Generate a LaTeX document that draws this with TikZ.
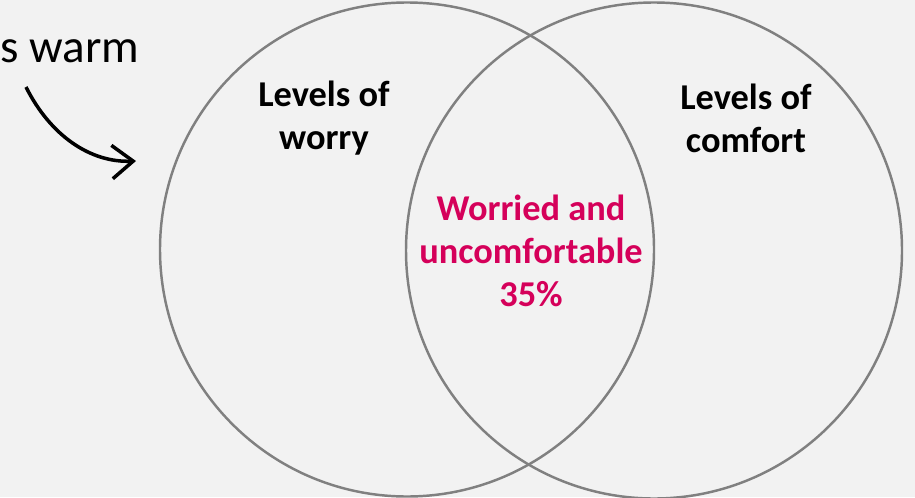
\documentclass[tikz,border=0pt]{standalone}
\usepackage{fontspec}
\setmainfont{Carlito}
\usepackage{tikz}
\usepackage{xcolor}
\usetikzlibrary{arrows.meta}
\definecolor{bgray}{HTML}{F2F2F2}
\definecolor{ringgray}{HTML}{808080}
\definecolor{worrypink}{RGB}{213,0,90}

\begin{document}
\begin{tikzpicture}[x=0.02cm,y=-0.02cm,
  ring/.style={draw=ringgray,line width=1.4pt},
  lbl/.style={font=\bfseries\fontsize{20.7}{24.5}\selectfont,align=center}]
\fill[bgray](0,0) rectangle (915,497);
\useasboundingbox (0,0) rectangle (915,497);
\draw[ring](407,249.5) circle (247);
\draw[ring](654,250.5) circle (248);
\node[lbl] (worry) at (324,118) {Levels of\\worry};
\node[lbl] (comfort) at (746,118) {Levels of\\comfort};
\node[lbl,text=worrypink] (both) at (531,251) {Worried and\\uncomfortable\\35\%};
\node[anchor=base west,inner sep=0pt,font=\fontsize{26.8}{30}\selectfont] (warm) at (0,62) {s warm};
\coordinate (tail) at (26,87);
\coordinate (tip) at (136,161);
\draw[line width=2pt,-{Straight Barb[length=12pt,width=19pt,line width=2pt]}](tail) .. controls (50,135) and (90,163) .. (tip);
\end{tikzpicture}
\end{document}
